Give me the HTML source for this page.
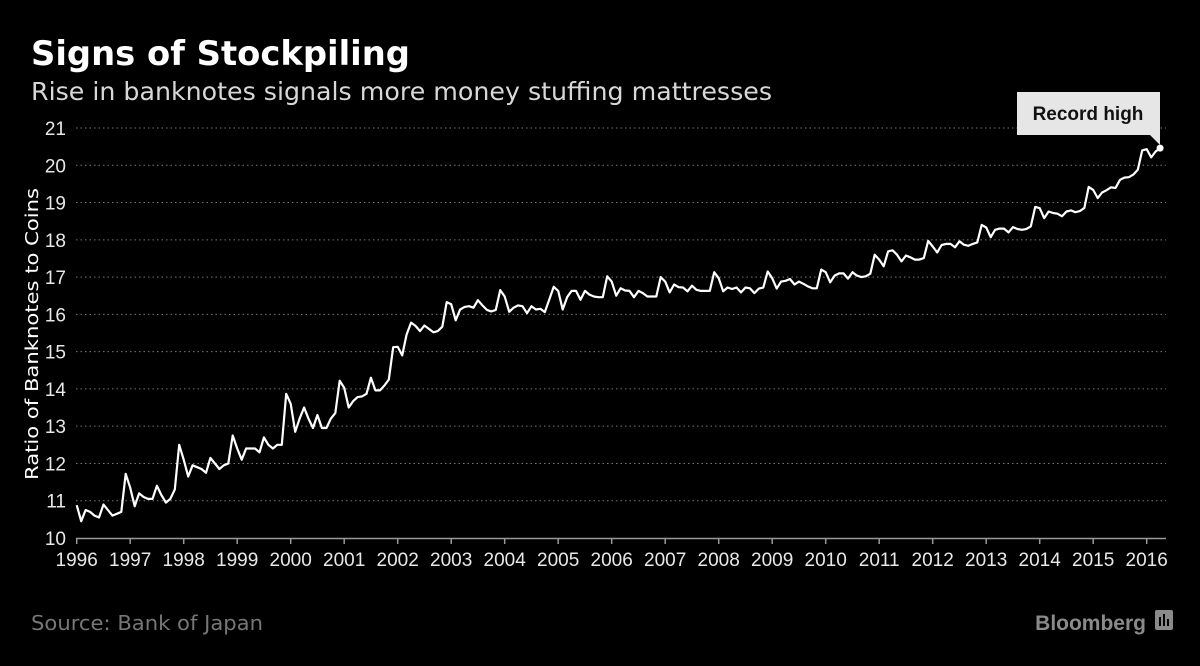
<!DOCTYPE html>
<html><head><meta charset="utf-8"><style>
html,body{margin:0;padding:0;background:#000;}
body{width:1200px;height:666px;overflow:hidden;position:relative;font-family:"Liberation Sans",sans-serif;}
svg{position:absolute;left:0;top:0;}
</style></head><body>
<svg id="chart" width="1200" height="666">
<text x="31" y="65" fill="#fff" font-size="34" font-weight="bold" font-family="DejaVu Sans, sans-serif" textLength="379" lengthAdjust="spacingAndGlyphs">Signs of Stockpiling</text>
<text x="31" y="100" fill="#d8d8d8" font-size="25" font-family="DejaVu Sans, sans-serif" textLength="741" lengthAdjust="spacingAndGlyphs">Rise in banknotes signals more money stuffing mattresses</text>
<g id="grid"></g>
<g id="yticks"></g>
<g id="xaxis"></g>
<text transform="translate(38,334) rotate(-90)" text-anchor="middle" fill="#fff" font-size="18" font-family="DejaVu Sans, sans-serif" textLength="292" lengthAdjust="spacingAndGlyphs">Ratio of Banknotes to Coins</text>
<path id="line" fill="none" stroke="#fff" stroke-width="2.2" stroke-linejoin="round"></path>
<circle id="dot" r="3.5" fill="#fff"></circle>
<g>
<rect x="1017" y="92" width="143" height="43" fill="#e6e6e6"></rect>
<polygon points="1150,135 1160,135 1160,145" fill="#e6e6e6"></polygon>
<text x="1088" y="120" text-anchor="middle" fill="#111" font-size="19" font-weight="bold">Record high</text>
</g>
<text x="31" y="630" fill="#777" font-size="20" font-family="DejaVu Sans, sans-serif" textLength="232" lengthAdjust="spacingAndGlyphs">Source: Bank of Japan</text>
<g>
<text x="1146" y="630" text-anchor="end" fill="#8a8a8a" font-size="21" font-weight="bold">Bloomberg</text>
<rect x="1155" y="610" width="18" height="20" rx="2" fill="#8a8a8a"></rect>
<rect x="1159" y="617" width="2" height="9" fill="#000"></rect>
<rect x="1163" y="614" width="2" height="12" fill="#000"></rect>
<rect x="1167" y="619" width="2" height="7" fill="#000"></rect>
</g>
</svg>
<script>
const yTicks=[10,11,12,13,14,15,16,17,18,19,20,21];
const xTickYears=[1996,1997,1998,1999,2000,2001,2002,2003,2004,2005,2006,2007,2008,2009,2010,2011,2012,2013,2014,2015,2016];
const startYear=1996;
const values1996=[10.88,10.45,10.75,10.7,10.6,10.55,10.9,10.75,10.6,10.65,10.7,11.72];
const values1997=[11.35,10.85,11.2,11.1,11.05,11.05,11.4,11.15,10.95,11.05,11.3,12.5];
const values1998=[12.1,11.65,11.95,11.9,11.85,11.75,12.15,12.0,11.85,11.95,12.0,12.75];
const values1999=[12.4,12.1,12.4,12.4,12.4,12.3,12.7,12.5,12.4,12.5,12.5,13.87];
const values2000=[13.6,12.85,13.2,13.5,13.2,12.95,13.3,12.95,12.95,13.2,13.35,14.22];
const values2001=[14.03,13.5,13.67,13.78,13.8,13.87,14.3,13.96,13.96,14.09,14.25,15.12];
const values2002=[15.13,14.9,15.46,15.78,15.69,15.55,15.7,15.61,15.52,15.55,15.67,16.33];
const values2003=[16.27,15.84,16.13,16.2,16.22,16.18,16.38,16.24,16.12,16.08,16.12,16.65];
const values2004=[16.48,16.07,16.18,16.24,16.22,16.03,16.22,16.13,16.15,16.06,16.4,16.74];
const values2005=[16.63,16.13,16.46,16.63,16.63,16.39,16.63,16.53,16.48,16.46,16.46,17.02];
const values2006=[16.88,16.5,16.7,16.64,16.63,16.46,16.63,16.57,16.48,16.48,16.48,17.0];
const values2007=[16.88,16.59,16.8,16.73,16.72,16.62,16.77,16.66,16.63,16.63,16.63,17.13];
const values2008=[16.97,16.62,16.72,16.68,16.72,16.59,16.72,16.7,16.57,16.69,16.72,17.15];
const values2009=[16.97,16.69,16.88,16.9,16.95,16.8,16.88,16.82,16.75,16.7,16.7,17.2];
const values2010=[17.13,16.86,17.04,17.1,17.1,16.96,17.13,17.04,17.0,17.02,17.09,17.6];
const values2011=[17.47,17.29,17.69,17.72,17.6,17.42,17.58,17.53,17.47,17.47,17.51,17.97];
const values2012=[17.82,17.66,17.86,17.89,17.89,17.8,17.96,17.87,17.84,17.89,17.93,18.4];
const values2013=[18.33,18.07,18.27,18.3,18.3,18.2,18.34,18.29,18.27,18.29,18.36,18.88];
const values2014=[18.85,18.58,18.76,18.72,18.7,18.63,18.76,18.79,18.74,18.77,18.85,19.42];
const values2015=[19.34,19.12,19.27,19.33,19.41,19.39,19.61,19.67,19.68,19.75,19.88,20.4];
const values2016=[20.43,20.21,20.37,20.46];
const series=[].concat(values1996,values1997,values1998,values1999,values2000,values2001,values2002,values2003,values2004,values2005,values2006,values2007,values2008,values2009,values2010,values2011,values2012,values2013,values2014,values2015,values2016);

const X0=76.7,X1=1146.7,Y0=538,Y1=128;
function xScale(t){return X0+(t-startYear)*(X1-X0)/20;}
function yScale(v){return Y0-(v-10)*(Y0-Y1)/11;}
const NS="http://www.w3.org/2000/svg";
const grid=document.getElementById('grid'),yt=document.getElementById('yticks'),xa=document.getElementById('xaxis');
yTicks.forEach(v=>{
  const y=yScale(v);
  if(v>10){
    const l=document.createElementNS(NS,'line');
    l.setAttribute('x1',76);l.setAttribute('x2',1166);l.setAttribute('y1',y);l.setAttribute('y2',y);
    l.setAttribute('stroke','#777');l.setAttribute('stroke-width','1');l.setAttribute('stroke-dasharray','1.5,3');
    
    
    grid.appendChild(l);
  }
  const t=document.createElementNS(NS,'text');
  t.setAttribute('x',66);t.setAttribute('y',y+7);t.setAttribute('text-anchor','end');
  t.setAttribute('fill','#e8e8e8');t.setAttribute('font-size','19');t.textContent=v;
  
  
  yt.appendChild(t);
});
const ax=document.createElementNS(NS,'line');
ax.setAttribute('x1',76);ax.setAttribute('x2',1166);ax.setAttribute('y1',Y0+0.5);ax.setAttribute('y2',Y0+0.5);
ax.setAttribute('stroke','#999');ax.setAttribute('stroke-width','1.5');


xa.appendChild(ax);
xTickYears.forEach(yr=>{
  const x=xScale(yr);
  const tk=document.createElementNS(NS,'line');
  tk.setAttribute('x1',x);tk.setAttribute('x2',x);tk.setAttribute('y1',Y0);tk.setAttribute('y2',Y0+6);
  tk.setAttribute('stroke','#999');tk.setAttribute('stroke-width','1.5');
  
  
  xa.appendChild(tk);
  const t=document.createElementNS(NS,'text');
  t.setAttribute('x',x);t.setAttribute('y',566);t.setAttribute('text-anchor','middle');
  t.setAttribute('fill','#e8e8e8');t.setAttribute('font-size','19');t.textContent=yr;
  
  
  xa.appendChild(t);
});
let d='';
series.forEach((v,i)=>{const x=xScale(startYear+i/12),y=yScale(v);d+=(i?'L':'M')+x.toFixed(1)+','+y.toFixed(1);});
document.getElementById('line').setAttribute('d',d);
const last=series.length-1;
const dot=document.getElementById('dot');
dot.setAttribute('cx',xScale(startYear+last/12));dot.setAttribute('cy',yScale(series[last]));
</script>
</body></html>
